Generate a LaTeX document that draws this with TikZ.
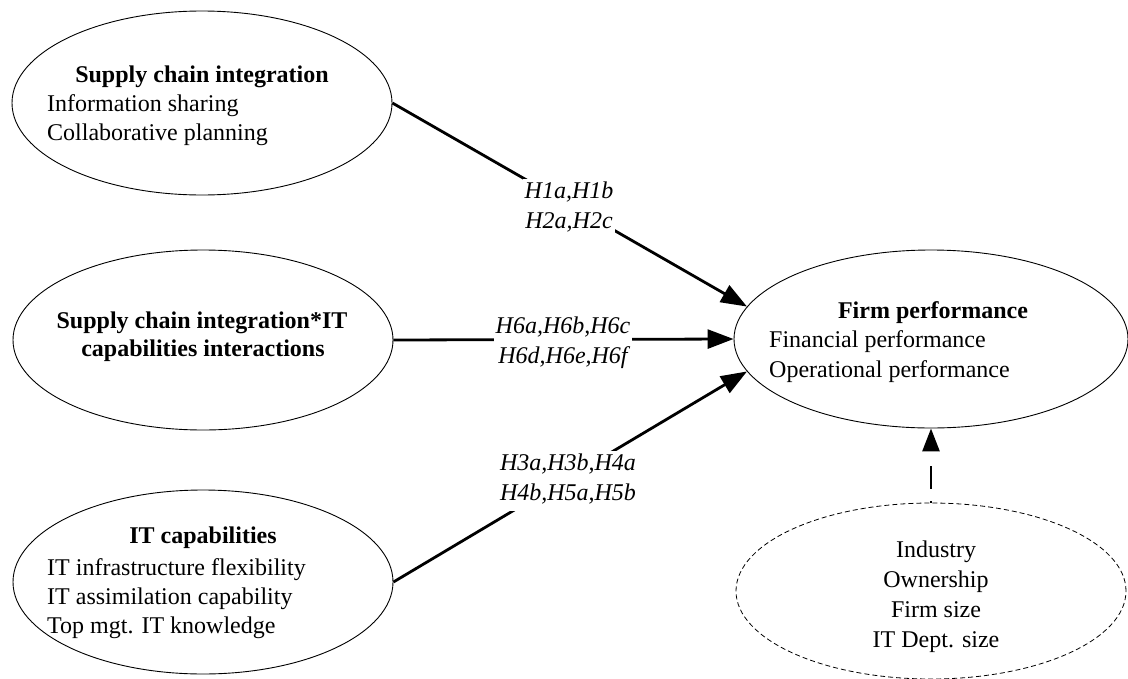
\documentclass[tikz,border=0pt]{standalone}
\usepackage{fontspec}
\setmainfont{Liberation Serif}
\usetikzlibrary{shapes.geometric,arrows.meta}

\begin{document}
\begin{tikzpicture}[x=1pt,y=-1pt,
  every node/.style={font=\fontsize{24}{29}\selectfont},
  oval/.style={ellipse,draw,line width=0.9pt,inner sep=0pt,
    minimum width=380pt,minimum height=184pt},
  ctrloval/.style={ellipse,draw,line width=0.8pt,dash pattern=on 5pt off 3pt,
    inner sep=0pt,minimum width=390pt,minimum height=176pt},
  txt/.style={anchor=base,inner sep=0pt},
  title/.style={txt,font=\fontsize{24}{29}\selectfont\bfseries},
  item/.style={txt,anchor=base west},
  hyp/.style={anchor=base,fill=white,inner xsep=2pt,inner ysep=0pt,
    text height=19pt,text depth=11pt,font=\fontsize{24}{29}\selectfont\itshape},
  path/.style={line width=2.8pt,-{Triangle[length=26pt,width=19pt]}},
  ctrlpath/.style={line width=2.8pt,dash pattern=on 2pt off 12pt on 23pt off 30pt,
    -{Triangle[length=23pt,width=17pt]}}
]
\useasboundingbox (0,0) rectangle (1128,678);

% constructs
\node[oval] (sci) at (202,103) {};
\node[oval,minimum height=180pt] (inter) at (203,340) {};
\node[oval] (itc) at (203,582) {};
\node[oval,minimum width=394pt,minimum height=178pt] (firm) at (931,339) {};
\node[ctrloval] (ctrl) at (931,591) {};

% construct texts
\node[title] (sciT) at (202,82) {Supply chain integration};
\node[item] (sciA) at (47,111) {Information sharing};
\node[item] (sciB) at (47,140) {Collaborative planning};

\node[title] (intA) at (202,328) {Supply chain integration*IT};
\node[title] (intB) at (203,356) {capabilities interactions};

\node[title] (itcT) at (203,543) {IT capabilities};
\node[item] (itcA) at (47,575) {IT infrastructure flexibility};
\node[item] (itcB) at (47,604) {IT assimilation capability};
\node[item] (itcC) at (47,633) {Top mgt. IT knowledge};

\node[title] (firmT) at (933,318) {Firm performance};
\node[item] (firmA) at (769,347) {Financial performance};
\node[item] (firmB) at (769,377) {Operational performance};

\node[txt] (ctlA) at (936,557) {Industry};
\node[txt] (ctlB) at (936,587) {Ownership};
\node[txt] (ctlC) at (936,617) {Firm size};
\node[txt] (ctlD) at (936,647) {IT Dept. size};

% hypothesised paths
\draw[path] (sci.east) -- (firm.170.5);
\draw[path] (inter.east) -- (firm.west);
\draw[path] (itc.east) -- (firm.190.5);
\draw[ctrlpath] (ctrl.north) -- (firm.south);

% path labels
\node[hyp] (h1) at (569,198) {H1a,H1b};
\node[hyp] (h2) at (569,228) {H2a,H2c};
\node[hyp] (h6a) at (563,333) {H6a,H6b,H6c};
\node[hyp] (h6b) at (563,363) {H6d,H6e,H6f};
\node[hyp] (h3) at (568,470) {H3a,H3b,H4a};
\node[hyp] (h4) at (568,500) {H4b,H5a,H5b};
\end{tikzpicture}
\end{document}
